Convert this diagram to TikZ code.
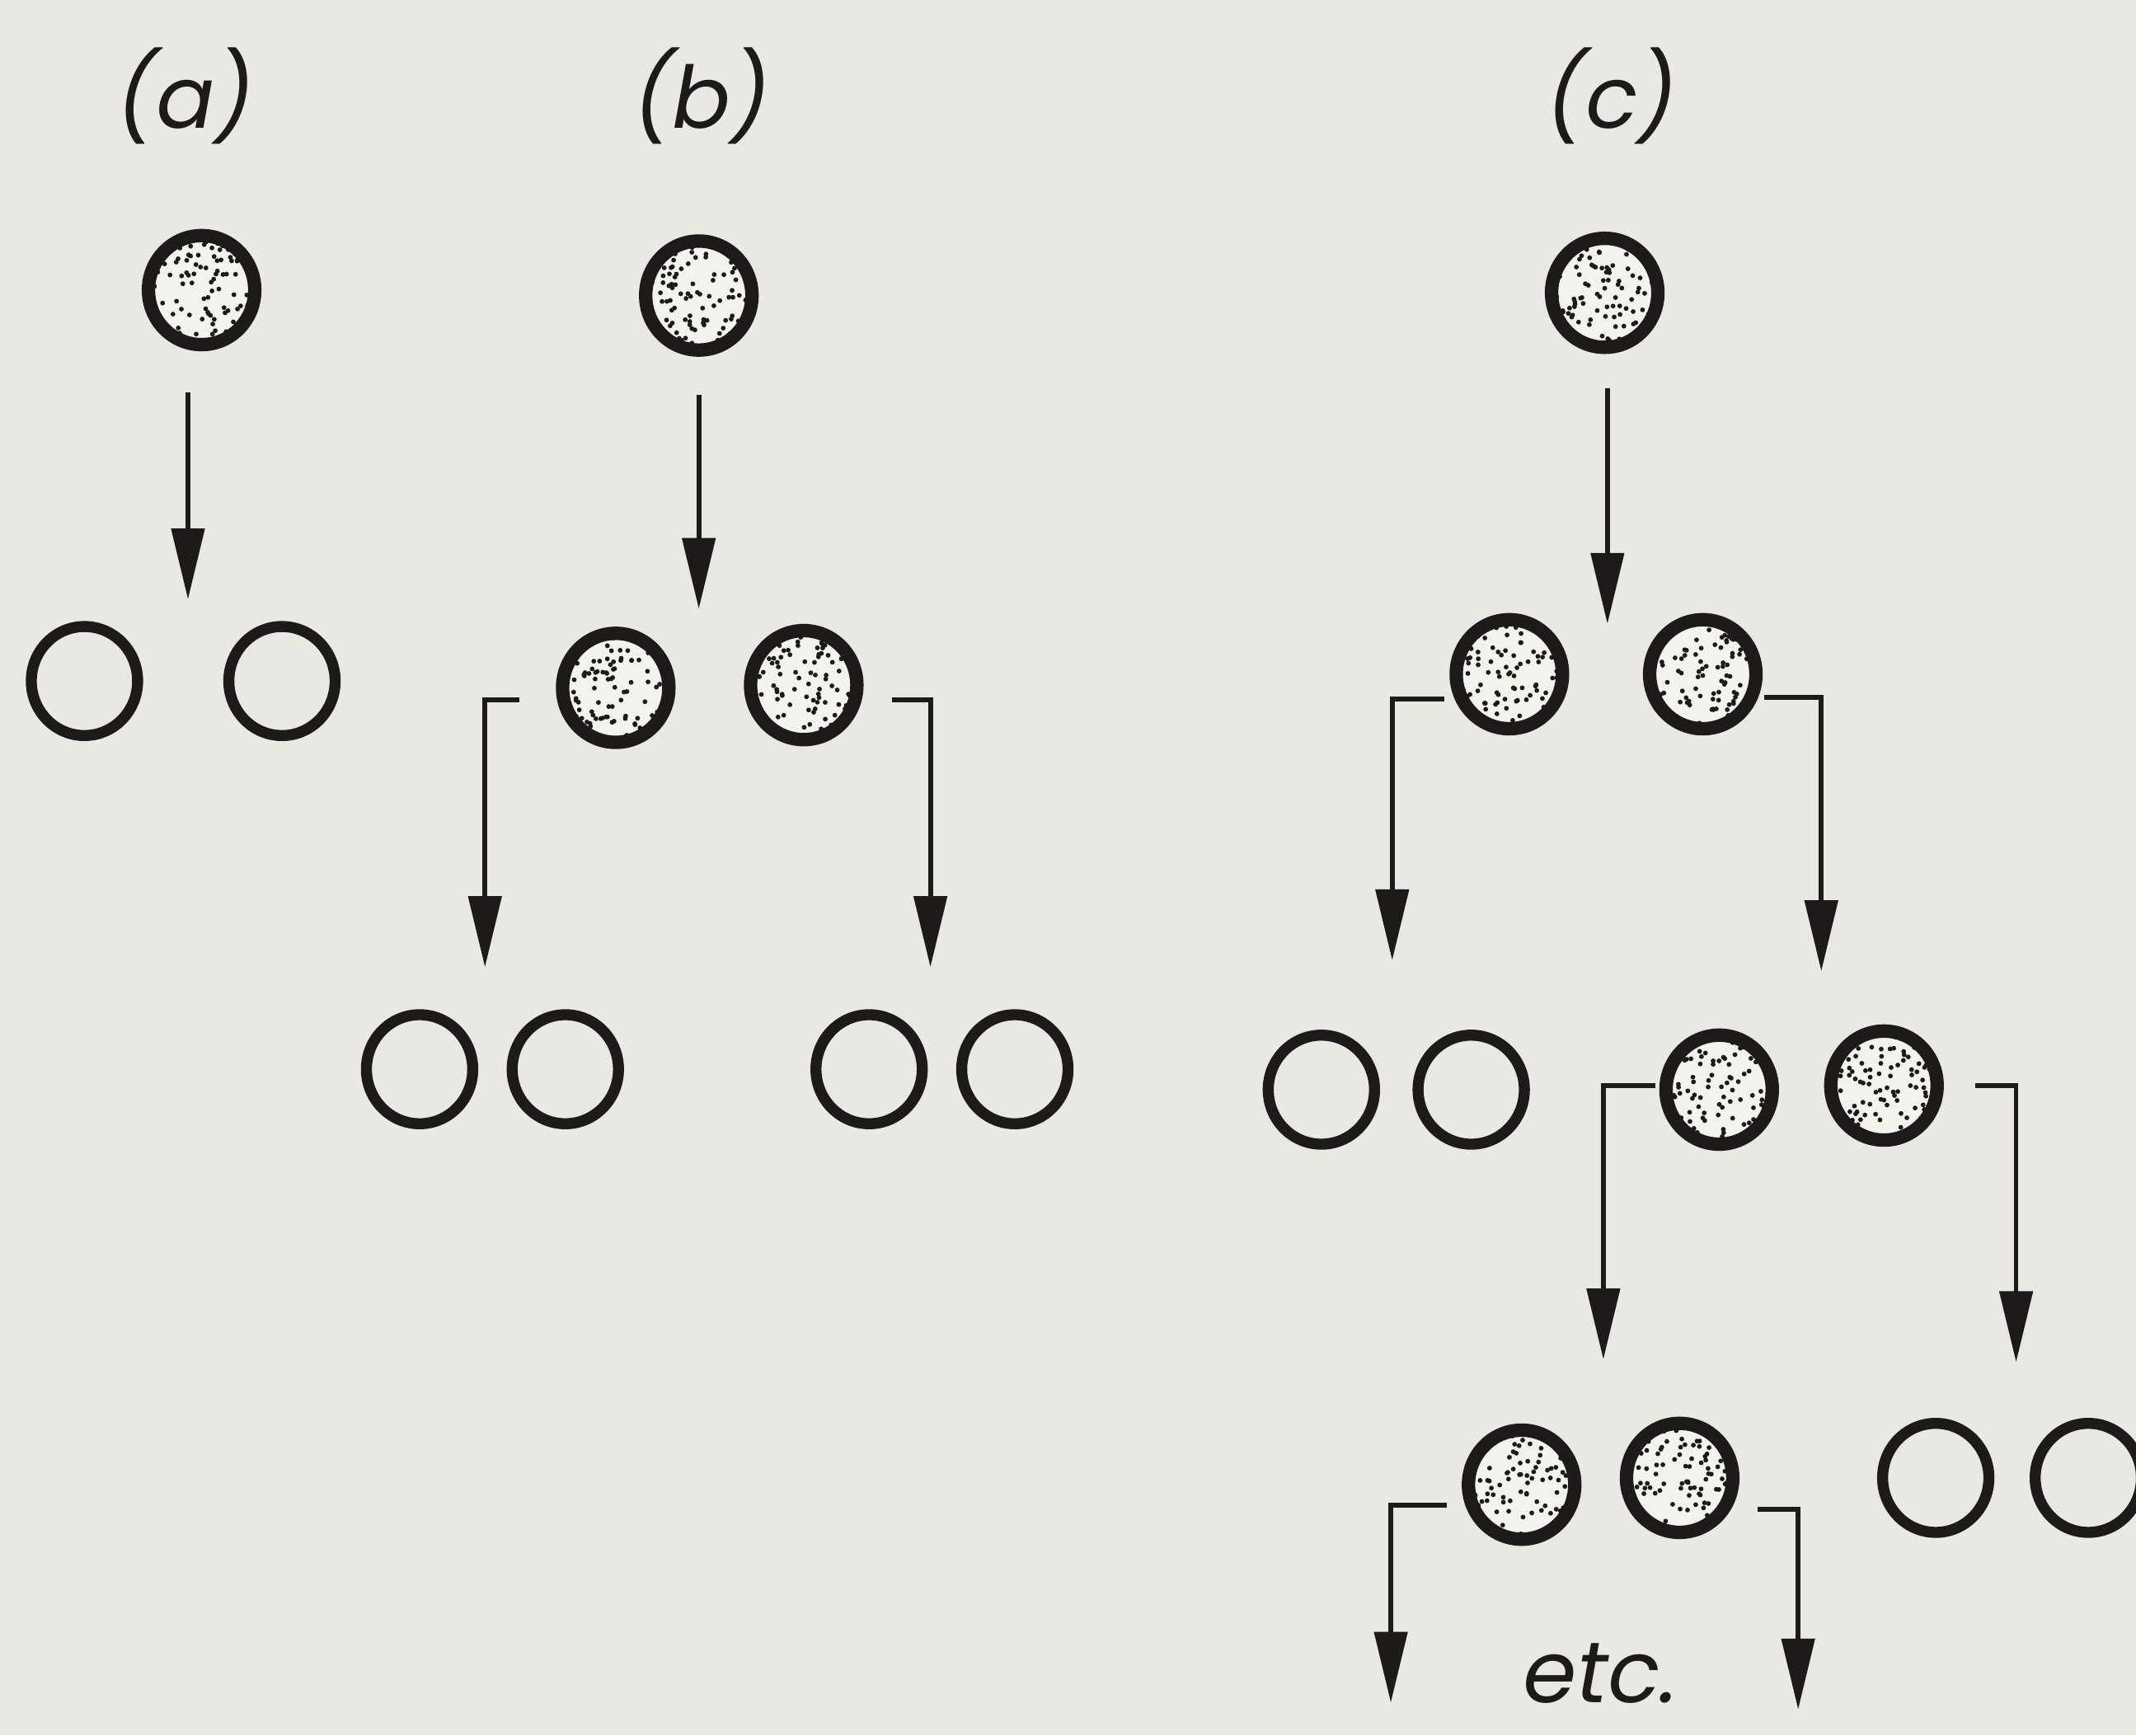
\documentclass[tikz,border=0pt]{standalone}
\usepackage{fontspec}
\newfontfamily\labfont{Poppins}[FakeSlant=0.18]
\usetikzlibrary{arrows.meta,shapes.geometric,calc}
\definecolor{paper}{HTML}{E9E8E2}
\definecolor{cellin}{HTML}{F3F2EC}
\definecolor{ink}{HTML}{1E1A1A}
\begin{document}
\pgfmathsetseed{11}
\begin{tikzpicture}[x=0.01cm,y=-0.01cm,
  cellbase/.style={ellipse, minimum width=0.78cm, minimum height=0.80cm, inner sep=0pt, draw=ink},
  opencell/.style={cellbase, line width=2.3pt},
  stipcell/.style={cellbase, line width=2.8pt, fill=cellin,
    path picture={\foreach \k in {1,...,120}{\fill[ink] ($(path picture bounding box.center)+(rand*0.4cm,rand*0.42cm)$) circle (0.5pt);}}},
  flow/.style={draw=ink, line width=1pt, -{Triangle[length=0.52cm,width=0.24cm]}},
  lab/.style={font=\labfont\fontsize{18}{22}\selectfont, text=ink, inner sep=0pt, anchor=base}
]
\useasboundingbox (0,0) rectangle (1568,1274);
\fill[paper] (0,0) rectangle (1568,1274);

% labels
\node[lab] (la) at (133,94) {(a)};
\node[lab] (lb) at (512,94) {(b)};
\node[lab] (lc) at (1180,94) {(c)};
\node[lab] (etc) at (1172,1250) {etc.};

\begin{scope}
\clip (0,0) rectangle (1568,1274);
% (a)
\node[stipcell] (A0) at (148,213) {};
\node[opencell] (A1) at (62,500) {};
\node[opencell] (A2) at (207,500) {};
\coordinate (a0s) at (138,288);
\coordinate (a0e) at (138,440);
\draw[flow] (a0s) -- (a0e);

% (b)
\node[stipcell] (B0) at (513,217) {};
\node[stipcell] (B1) at (452,505) {};
\node[stipcell] (B2) at (590,503) {};
\node[opencell] (B11) at (308,785) {};
\node[opencell] (B12) at (415,785) {};
\node[opencell] (B21) at (638,785) {};
\node[opencell] (B22) at (745,785) {};
\coordinate (b0s) at (513,290);
\coordinate (b0e) at (513,447);
\draw[flow] (b0s) -- (b0e);
\coordinate (b1s) at (381,514);
\coordinate (b1e) at (356,710);
\draw[flow] (b1s) -| (b1e);
\coordinate (b2s) at (655,514);
\coordinate (b2e) at (683,710);
\draw[flow] (b2s) -| (b2e);

% (c)
\node[stipcell] (C0) at (1178,215) {};
\node[stipcell] (C1) at (1108,495) {};
\node[stipcell] (C2) at (1250,495) {};
\node[opencell] (C11) at (970,800) {};
\node[opencell] (C12) at (1080,800) {};
\node[stipcell] (C21) at (1262,800) {};
\node[stipcell] (C22) at (1383,797) {};
\node[stipcell] (C211) at (1117,1090) {};
\node[stipcell] (C212) at (1233,1085) {};
\node[opencell] (C221) at (1421,1085) {};
\node[opencell] (C222) at (1533,1085) {};
\coordinate (c0s) at (1180,285);
\coordinate (c0e) at (1180,458);
\draw[flow] (c0s) -- (c0e);
\coordinate (c1s) at (1060,513);
\coordinate (c1e) at (1022,705);
\draw[flow] (c1s) -| (c1e);
\coordinate (c2s) at (1295,512);
\coordinate (c2e) at (1337,713);
\draw[flow] (c2s) -| (c2e);
\coordinate (c21s) at (1215,797);
\coordinate (c21e) at (1177,998);
\draw[flow] (c21s) -| (c21e);
\coordinate (c22s) at (1450,797);
\coordinate (c22e) at (1480,1000);
\draw[flow] (c22s) -| (c22e);
\coordinate (c211s) at (1062,1105);
\coordinate (c211e) at (1021,1250);
\draw[flow] (c211s) -| (c211e);
\coordinate (c212s) at (1290,1108);
\coordinate (c212e) at (1320,1255);
\draw[flow] (c212s) -| (c212e);
\end{scope}
\end{tikzpicture}
\end{document}
